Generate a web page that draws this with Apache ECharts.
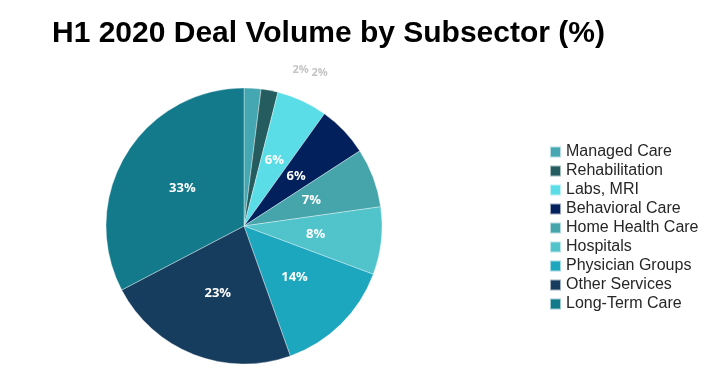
<!DOCTYPE html>
<html><head><meta charset="utf-8">
<script src="https://cdn.jsdelivr.net/npm/echarts@6/dist/echarts.min.js"></script>
<style>html,body{margin:0;padding:0;background:#fff}#c{width:705px;height:390px}</style>
</head><body><div id="c"></div>
<script>
const categories = ['Managed Care','Rehabilitation','Labs, MRI','Behavioral Care','Home Health Care','Hospitals','Physician Groups','Other Services','Long-Term Care'];
const values = [2, 2, 6, 6, 7, 8, 14, 23, 33];
const colors = ['#44A7B1','#245C5F','#5ADDE6','#02205C','#45A5AB','#50C3CB','#1DA7BF','#173D5E','#137A8C'];

const chart = echarts.init(document.getElementById('c'));
const data = categories.map((n, i) => {
  const d = { name: n, value: values[i], itemStyle: { color: colors[i] } };
  if (values[i] < 3) {
    d.label = { position: 'outside', color: '#c4c4c4', fontWeight: 'bold', fontSize: 11, distance: 4 };
    d.labelLine = { show: false };
  }
  return d;
});
chart.setOption({
  animation: false,
  title: {
    text: 'H1 2020 Deal Volume by Subsector (%)',
    left: 47, top: 14,
    textStyle: { fontFamily: 'Liberation Sans', fontWeight: 'bold', fontSize: 30, color: '#000' }
  },
  legend: {
    orient: 'vertical', left: 544, top: 139,
    itemWidth: 11, itemHeight: 11, itemGap: 3,
    icon: 'rect',
    textStyle: { fontFamily: 'Liberation Sans', fontSize: 16, lineHeight: 16, color: '#262626' },
    data: categories
  },
  series: [{
    type: 'pie',
    center: [244, 226], radius: 138,
    startAngle: 90, clockwise: true,
    avoidLabelOverlap: false,
    itemStyle: { borderColor: 'rgba(255,255,255,0.6)', borderWidth: 0.6 },
    label: {
      show: true, position: 'inner',
      formatter: p => p.value + '%',
      color: '#fff', fontFamily: 'Open Sans', fontWeight: 'bold', fontSize: 13
    },
    labelLine: { show: false },
    labelLayout: p => p.dataIndex < 2 ? { dx: 4, dy: -3 } : {},
    data: data
  }]
});
</script></body></html>
